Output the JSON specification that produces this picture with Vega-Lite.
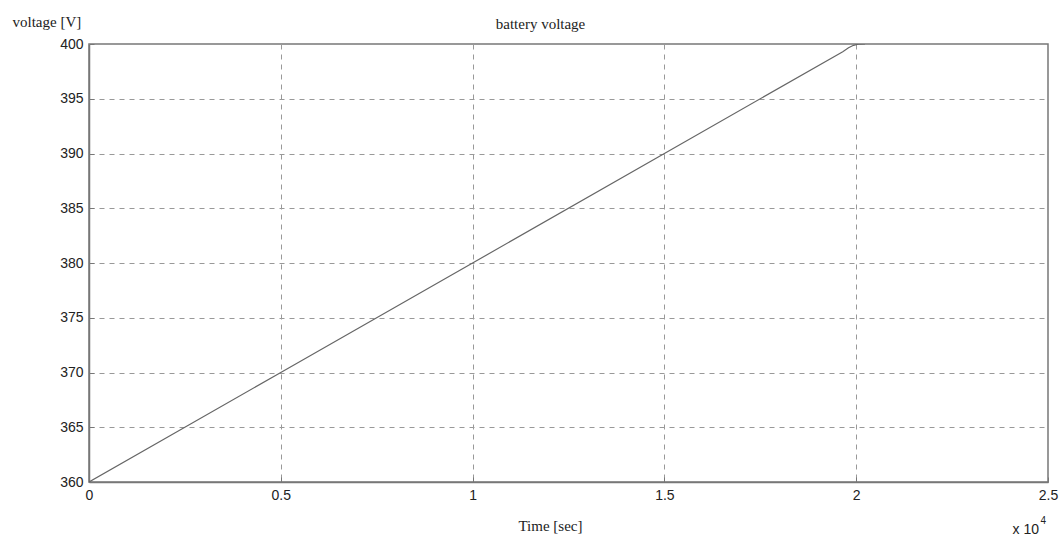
{
  "$schema": "https://vega.github.io/schema/vega-lite/v6.json",
  "autosize": {"type": "none"},
  "padding": {"left": 89, "top": 44, "right": 15, "bottom": 57},
  "width": 959,
  "height": 438,
  "background": "white",
  "title": {"text": "battery voltage", "font": "Liberation Serif", "fontSize": 15, "fontWeight": "normal", "color": "#222", "offset": 8, "anchor": "middle", "dy": 26, "dx": -28},
  "config": {
    "view": {"stroke": "#777", "strokeWidth": 1.5},
    "axis": {"grid": true, "gridColor": "#999", "gridDash": [5, 5], "gridWidth": 1, "domainColor": "#777", "domainWidth": 1.5, "tickColor": "#777", "tickSize": 5,
      "labelFont": "Liberation Sans", "labelFontSize": 14, "labelColor": "#222", "titleFont": "Liberation Serif", "titleFontSize": 15, "titleFontWeight": "normal", "titleColor": "#222"}
  },
  "datasets": {
    "series": [
      {"t": 0, "v": 360},
      {"t": 5000, "v": 370},
      {"t": 10000, "v": 380},
      {"t": 15000, "v": 390},
      {"t": 19650, "v": 399.3},
      {"t": 19800, "v": 399.65},
      {"t": 19930, "v": 399.88},
      {"t": 20050, "v": 399.98},
      {"t": 20230, "v": 400}
    ],
    "note": [{"t": 25000, "v": 360, "label": "x 10", "sup": "4"}]
  },
  "layer": [
    {
      "data": {"name": "series"},
      "mark": {"type": "line", "color": "#666", "strokeWidth": 1.2, "clip": true},
      "encoding": {
        "x": {"field": "t", "type": "quantitative", "scale": {"domain": [0, 25000], "nice": false},
          "axis": {"title": "Time [sec]", "values": [0, 5000, 10000, 15000, 20000, 25000], "labelExpr": "datum.value / 10000", "labelFlush": false, "tickSize": -5, "labelPadding": 11, "titlePadding": 16, "titleX": 461, "titleAlign": "center", "titleAnchor": null}},
        "y": {"field": "v", "type": "quantitative", "scale": {"domain": [360, 400], "nice": false, "zero": false},
          "axis": {"title": "voltage [V]", "values": [360, 365, 370, 375, 380, 385, 390, 395, 400], "labelFlush": false, "tickSize": -5, "labelPadding": 11, "titleAngle": 0, "titleAlign": "left", "titleAnchor": "end", "titleBaseline": "bottom", "titleX": -77, "titleY": -15}}
      }
    },
    {
      "data": {"name": "note"},
      "mark": {"type": "text", "font": "Liberation Sans", "fontSize": 14, "color": "#222", "align": "right", "baseline": "middle", "dy": 48, "dx": -9},
      "encoding": {
        "x": {"field": "t", "type": "quantitative"},
        "y": {"field": "v", "type": "quantitative"},
        "text": {"field": "label"}
      }
    },
    {
      "data": {"name": "note"},
      "mark": {"type": "text", "font": "Liberation Sans", "fontSize": 10, "color": "#222", "align": "right", "baseline": "middle", "dy": 39, "dx": -2},
      "encoding": {
        "x": {"field": "t", "type": "quantitative"},
        "y": {"field": "v", "type": "quantitative"},
        "text": {"field": "sup"}
      }
    }
  ]
}
